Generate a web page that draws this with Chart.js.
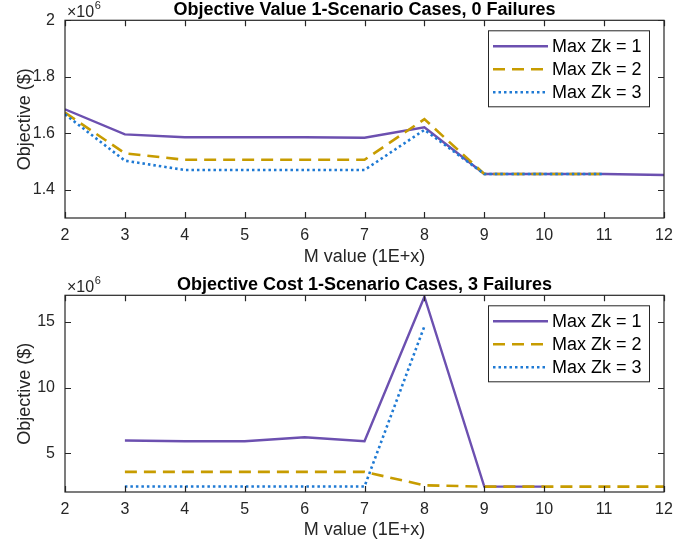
<!DOCTYPE html>
<html>
<head>
<meta charset="utf-8">
<script src="https://cdn.jsdelivr.net/npm/chart.js@4.4.1/dist/chart.umd.min.js"></script>
<style>
  html, body { margin: 0; padding: 0; background: #fff; }
  .panel { position: absolute; left: 0; width: 693px; height: 273px; }
</style>
</head>
<body>
<div class="panel" style="top:0"><canvas id="topChart"></canvas></div>
<div class="panel" style="top:273px"><canvas id="bottomChart"></canvas></div>
<script>
// M value exponents (x axis)
const mValues = [2, 3, 4, 5, 6, 7, 8, 9, 10, 11, 12];
const xTicks = [2, 3, 4, 5, 6, 7, 8, 9, 10, 11, 12];

// 0 failures, objective in units of 1e6
const zk1Top = [1.685, 1.596, 1.586, 1.586, 1.586, 1.584, 1.621, 1.456, 1.456, 1.456, 1.452];
const zk2Top = [1.673, 1.529, 1.506, 1.506, 1.506, 1.506, 1.650, 1.456, 1.456, 1.456, null];
const zk3Top = [1.667, 1.503, 1.470, 1.470, 1.470, 1.470, 1.612, 1.456, 1.456, 1.456, null];
const yTicksTop = [1.4, 1.6, 1.8, 2];

// 3 failures, objective in units of 1e6
const zk1Bot = [null, 5.97, 5.91, 5.91, 6.22, 5.91, 16.92, 2.46, 2.46, null, null];
const zk2Bot = [null, 3.58, 3.58, 3.58, 3.58, 3.58, 2.56, 2.46, 2.46, 2.46, 2.46];
const zk3Bot = [null, 2.47, 2.47, 2.47, 2.47, 2.47, 14.67, null, null, null, null];
const yTicksBot = [5, 10, 15];

const seriesLabels = ['Max Zk = 1', 'Max Zk = 2', 'Max Zk = 3'];

const FONT = "'Liberation Sans', Arial, Helvetica, sans-serif";
const AXIS = '#262626';
const PURPLE = '#6c50b0';
const GOLD = '#c79c00';
const BLUE = '#1f7ad4';

const toPoints = vals => mValues.map((m, i) => ({ x: m, y: vals[i] }));

// axes box with inward ticks on all four sides, plus the x10^6 exponent
const frame = {
  id: 'frame',
  afterDatasetsDraw(chart) {
    const { ctx, chartArea: a, scales: { x, y } } = chart;
    ctx.save();
    ctx.strokeStyle = AXIS;
    ctx.lineWidth = 1.2;
    ctx.beginPath();
    x.ticks.forEach(t => {
      const px = Math.round(x.getPixelForValue(t.value)) + 0.5;
      ctx.moveTo(px, a.bottom); ctx.lineTo(px, a.bottom - 6);
      ctx.moveTo(px, a.top); ctx.lineTo(px, a.top + 6);
    });
    y.ticks.forEach(t => {
      const py = Math.round(y.getPixelForValue(t.value)) + 0.5;
      ctx.moveTo(a.left, py); ctx.lineTo(a.left + 6, py);
      ctx.moveTo(a.right, py); ctx.lineTo(a.right - 6, py);
    });
    ctx.stroke();
    ctx.strokeRect(a.left, a.top, a.right - a.left, a.bottom - a.top);

    ctx.fillStyle = AXIS;
    ctx.textBaseline = 'alphabetic';
    ctx.textAlign = 'left';
    ctx.font = '16px ' + FONT;
    ctx.fillText('\u00d710', a.left + 2, a.top - 3);
    const w = ctx.measureText('\u00d710').width;
    ctx.font = '11px ' + FONT;
    ctx.fillText('6', a.left + 2 + w + 0.5, a.top - 11);
    ctx.restore();
  }
};

// MATLAB-style boxed legend in the upper right corner
const boxLegend = {
  id: 'boxLegend',
  afterDraw(chart) {
    const { ctx, chartArea: a } = chart;
    const bw = 161, bh = 76;
    const bx = a.right - 15 - bw, by = a.top + 10;
    ctx.save();
    ctx.fillStyle = '#fff';
    ctx.fillRect(bx, by, bw, bh);
    ctx.strokeStyle = AXIS;
    ctx.lineWidth = 1;
    ctx.strokeRect(bx + 0.5, by + 0.5, bw, bh);
    chart.data.datasets.forEach((ds, i) => {
      const ry = by + 16 + i * 23;
      ctx.beginPath();
      ctx.strokeStyle = ds.borderColor;
      ctx.lineWidth = ds.borderWidth;
      ctx.setLineDash(ds.borderDash || []);
      ctx.moveTo(bx + 5, ry);
      ctx.lineTo(bx + 60, ry);
      ctx.stroke();
      ctx.setLineDash([]);
      ctx.fillStyle = '#000';
      ctx.font = '18px ' + FONT;
      ctx.textBaseline = 'middle';
      ctx.fillText(ds.label, bx + 64, ry + 1);
    });
    ctx.restore();
  }
};

function makeChart(id, titleText, series, yMin, yMax, yTicks, titlePad, xHeight, xTitlePad) {
  const styles = [
    { borderColor: PURPLE, borderWidth: 2.4, borderDash: [], order: 3 },
    { borderColor: GOLD, borderWidth: 2.6, borderDash: [12, 7], order: 2 },
    { borderColor: BLUE, borderWidth: 2.6, borderDash: [2.5, 3], order: 1 }
  ];
  return new Chart(document.getElementById(id), {
    type: 'line',
    data: {
      datasets: series.map((vals, i) => Object.assign({
        label: seriesLabels[i],
        data: toPoints(vals),
        pointRadius: 0,
        tension: 0,
        fill: false,
        borderCapStyle: 'butt',
        spanGaps: false
      }, styles[i]))
    },
    options: {
      responsive: true,
      maintainAspectRatio: false,
      animation: false,
      layout: { padding: { left: 0, right: 29, top: 0, bottom: 0 } },
      scales: {
        x: {
          type: 'linear',
          min: 2,
          max: 12,
          afterBuildTicks: s => { s.ticks = xTicks.map(v => ({ value: v })); },
          afterFit: s => { s.height = xHeight; },
          grid: { display: false, drawTicks: false },
          border: { display: false },
          ticks: { color: AXIS, font: { family: FONT, size: 16 }, padding: 8, maxRotation: 0 },
          title: {
            display: true,
            text: 'M value (1E+x)',
            color: AXIS,
            font: { family: FONT, size: 18, lineHeight: 1.2 },
            padding: { top: 0, bottom: xTitlePad }
          }
        },
        y: {
          min: yMin,
          max: yMax,
          afterBuildTicks: s => { s.ticks = yTicks.map(v => ({ value: v })); },
          afterFit: s => { s.width = 65; },
          grid: { display: false, drawTicks: false },
          border: { display: false },
          ticks: {
            color: AXIS,
            font: { family: FONT, size: 16 },
            padding: 10,
            callback: v => String(+v.toFixed(2))
          },
          title: {
            display: true,
            text: 'Objective ($)',
            color: AXIS,
            font: { family: FONT, size: 18, lineHeight: 1.2 },
            padding: { top: 14, bottom: 0 }
          }
        }
      },
      plugins: {
        legend: { display: false },
        tooltip: { enabled: false },
        title: {
          display: true,
          text: titleText,
          fullSize: false,
          color: '#000',
          font: { family: FONT, size: 18, weight: 'bold', lineHeight: 1.1 },
          padding: titlePad
        }
      }
    },
    plugins: [frame, boxLegend]
  });
}

makeChart('topChart', 'Objective Value 1-Scenario Cases, 0 Failures',
  [zk1Top, zk2Top, zk3Top], 1.3, 2.0, yTicksTop, { top: 0.5, bottom: 0 }, 55, 5);
makeChart('bottomChart', 'Objective Cost 1-Scenario Cases, 3 Failures',
  [zk1Bot, zk2Bot, zk3Bot], 2.05, 17.03, yTicksBot, { top: 2.5, bottom: 0 }, 54, 5);
</script>
</body>
</html>
